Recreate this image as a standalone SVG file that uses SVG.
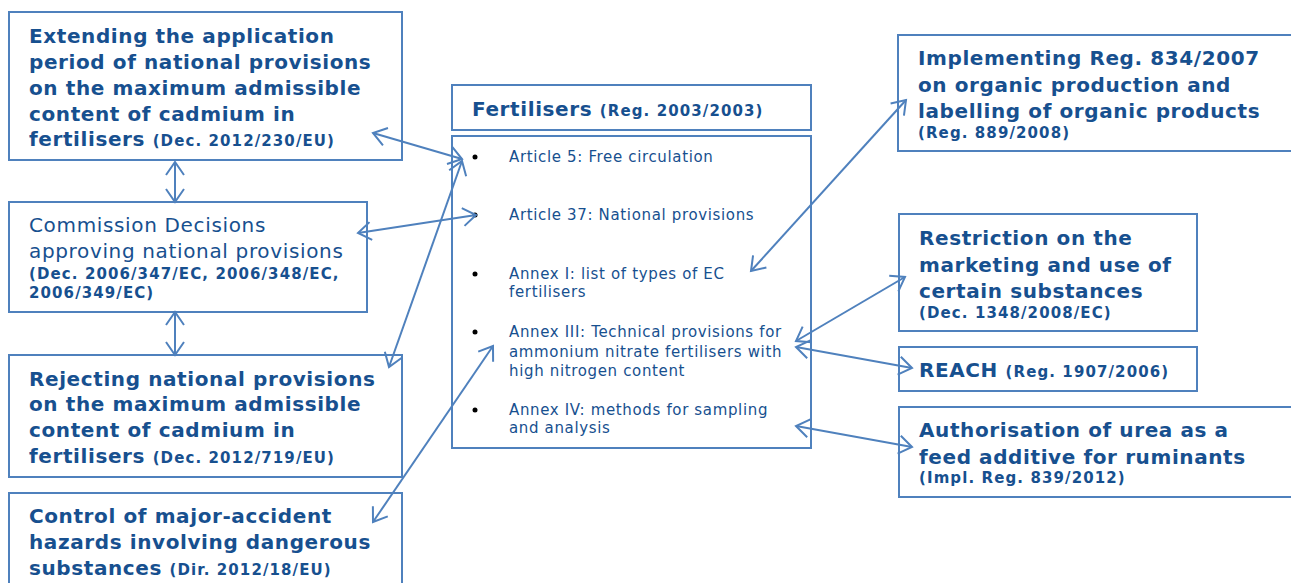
<svg xmlns="http://www.w3.org/2000/svg" width="1291" height="583" viewBox="0 0 1291 583">
<style>
.box{fill:#fff;stroke:#4F81BD;stroke-width:2}
.t{font-family:"DejaVu Sans","Liberation Sans",sans-serif;fill:#17508F}
.b{font-weight:bold;font-size:20px;letter-spacing:0.6px}
.r{font-size:20px;letter-spacing:0.65px}
.s{font-weight:bold;font-size:15px;letter-spacing:1.1px}
.l{font-size:15px;letter-spacing:0.65px}
.c{fill:none;stroke:#4F81BD;stroke-width:2;marker-start:url(#ah);marker-end:url(#ah)}
</style>
<defs>
<marker id="ah" markerUnits="userSpaceOnUse" markerWidth="30" markerHeight="30" refX="15" refY="10" orient="auto-start-reverse" viewBox="0 0 30 20">
<path d="M2 1 L15 10 L2 19" fill="none" stroke="#4F81BD" stroke-width="2"/>
</marker>
</defs>
<rect width="1291" height="583" fill="#fff"/>
<g id="extending">
<rect class="box" x="9" y="12" width="393" height="148"/>
<text class="t b" x="29"><tspan x="29" y="43">Extending the application</tspan><tspan x="29" y="69">period of national provisions</tspan><tspan x="29" y="95">on the maximum admissible</tspan><tspan x="29" y="121">content of cadmium in</tspan><tspan x="29" y="146">fertilisers <tspan class="s">(Dec. 2012/230/EU)</tspan></tspan></text>
</g>
<g id="commission">
<rect class="box" x="9" y="202" width="358" height="110"/>
<text class="t r"><tspan x="29" y="232">Commission Decisions</tspan><tspan x="29" y="258">approving national provisions</tspan><tspan class="s" x="29" y="279">(Dec. 2006/347/EC, 2006/348/EC,</tspan><tspan class="s" x="29" y="298">2006/349/EC)</tspan></text>
</g>
<g id="rejecting">
<rect class="box" x="9" y="355" width="393" height="122"/>
<text class="t b"><tspan x="29" y="386">Rejecting national provisions</tspan><tspan x="29" y="411">on the maximum admissible</tspan><tspan x="29" y="437">content of cadmium in</tspan><tspan x="29" y="463">fertilisers <tspan class="s">(Dec. 2012/719/EU)</tspan></tspan></text>
</g>
<g id="control">
<rect class="box" x="9" y="493" width="393" height="100"/>
<text class="t b"><tspan x="29" y="523">Control of major-accident</tspan><tspan x="29" y="549">hazards involving dangerous</tspan><tspan x="29" y="575">substances <tspan class="s">(Dir. 2012/18/EU)</tspan></tspan></text>
</g>
<g id="fertilisers-title">
<rect class="box" x="452" y="85" width="359" height="45"/>
<text class="t b" x="472" y="116">Fertilisers <tspan class="s">(Reg. 2003/2003)</tspan></text>
</g>
<g id="fertilisers-list">
<rect class="box" x="452" y="136" width="359" height="312"/>
<g fill="#000"><circle cx="475" cy="157" r="2.5"/><circle cx="475" cy="215" r="2.5"/><circle cx="475" cy="274" r="2.5"/><circle cx="475" cy="332" r="2.5"/><circle cx="475" cy="410" r="2.5"/></g>
<text class="t l"><tspan x="509" y="162">Article 5: Free circulation</tspan><tspan x="509" y="220">Article 37: National provisions</tspan><tspan x="509" y="279">Annex I: list of types of EC</tspan><tspan x="509" y="297">fertilisers</tspan><tspan x="509" y="337">Annex III: Technical provisions for</tspan><tspan x="509" y="357">ammonium nitrate fertilisers with</tspan><tspan x="509" y="376">high nitrogen content</tspan><tspan x="509" y="415">Annex IV: methods for sampling</tspan><tspan x="509" y="433">and analysis</tspan></text>
</g>
<g id="implementing">
<rect class="box" x="898" y="35" width="400" height="116"/>
<text class="t b"><tspan x="918" y="65">Implementing Reg. 834/2007</tspan><tspan x="918" y="92">on organic production and</tspan><tspan x="918" y="118">labelling of organic products</tspan><tspan class="s" x="918" y="138">(Reg. 889/2008)</tspan></text>
</g>
<g id="restriction">
<rect class="box" x="899" y="214" width="298" height="117"/>
<text class="t b"><tspan x="919" y="245">Restriction on the</tspan><tspan x="919" y="272">marketing and use of</tspan><tspan x="919" y="298">certain substances</tspan><tspan class="s" x="919" y="318">(Dec. 1348/2008/EC)</tspan></text>
</g>
<g id="reach">
<rect class="box" x="899" y="347" width="298" height="44"/>
<text class="t b" x="919" y="377">REACH <tspan class="s">(Reg. 1907/2006)</tspan></text>
</g>
<g id="authorisation">
<rect class="box" x="899" y="407" width="400" height="90"/>
<text class="t b"><tspan x="919" y="437">Authorisation of urea as a</tspan><tspan x="919" y="464">feed additive for ruminants</tspan><tspan class="s" x="919" y="483">(Impl. Reg. 839/2012)</tspan></text>
</g>
<g id="connectors">
<line class="c" x1="175" y1="162" x2="175" y2="202"/>
<line class="c" x1="175" y1="312" x2="175" y2="355"/>
<line class="c" x1="373" y1="133" x2="462" y2="159"/>
<line class="c" x1="358" y1="233" x2="476" y2="215"/>
<line class="c" x1="389" y1="367" x2="462" y2="161"/>
<line class="c" x1="373" y1="522" x2="493" y2="346"/>
<line class="c" x1="751" y1="271" x2="906" y2="100"/>
<line class="c" x1="796" y1="341" x2="905" y2="277"/>
<line class="c" x1="796" y1="347" x2="912" y2="368"/>
<line class="c" x1="796" y1="426" x2="912" y2="447"/>
</g>
</svg>
